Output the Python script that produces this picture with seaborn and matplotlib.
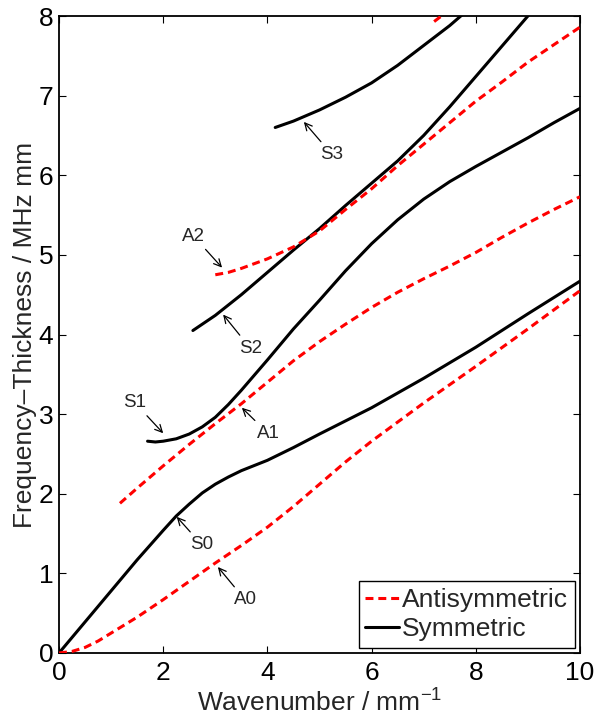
import matplotlib
matplotlib.use("Agg")
import matplotlib.pyplot as plt
import seaborn as sns
import pandas as pd

# ---- data ----
A0_x = [0, 0.25, 0.5, 0.75, 1, 1.5, 2, 2.5, 3, 3.5, 4, 4.5, 5, 5.5, 6, 7, 8, 9, 10]
A0_y = [0, 0.02, 0.07, 0.15, 0.25, 0.45, 0.67, 0.90, 1.13, 1.35, 1.58, 1.84, 2.12, 2.40, 2.66, 3.14, 3.60, 4.07, 4.55]

S0_x = [0, 0.5, 1, 1.5, 2, 2.25, 2.5, 2.75, 3, 3.25, 3.5, 4, 4.5, 5, 6, 7, 8, 9, 10]
S0_y = [0, 0.39, 0.78, 1.17, 1.54, 1.72, 1.87, 2.01, 2.12, 2.21, 2.29, 2.42, 2.58, 2.75, 3.08, 3.45, 3.84, 4.26, 4.67]

A1_x = [1.17, 1.5, 2, 2.5, 3, 3.5, 4, 4.5, 5, 5.5, 6, 6.5, 7, 7.5, 8, 8.5, 9, 9.5, 10]
A1_y = [1.88, 2.07, 2.35, 2.62, 2.88, 3.13, 3.40, 3.67, 3.91, 4.13, 4.34, 4.53, 4.70, 4.86, 5.03, 5.22, 5.40, 5.57, 5.73]

S1_x = [1.7, 1.85, 2, 2.25, 2.5, 2.75, 3, 3.25, 3.5, 3.75, 4, 4.5, 5, 5.5, 6, 6.5, 7, 7.5, 8, 8.5, 9, 9.5, 10]
S1_y = [2.66, 2.65, 2.66, 2.69, 2.75, 2.84, 2.96, 3.12, 3.30, 3.49, 3.68, 4.07, 4.43, 4.80, 5.14, 5.44, 5.70, 5.92, 6.11, 6.29, 6.47, 6.66, 6.84]

A2_x = [3.0, 3.25, 3.5, 4, 4.5, 5, 5.5, 6, 6.5, 7, 7.5, 8, 8.5, 9, 9.5, 10]
A2_y = [4.75, 4.78, 4.83, 4.95, 5.10, 5.30, 5.57, 5.83, 6.12, 6.39, 6.66, 6.93, 7.17, 7.42, 7.64, 7.86]

S2_x = [2.57, 3, 3.5, 4, 4.5, 5, 5.5, 6, 6.5, 7, 7.5, 8, 8.5, 9, 9.1]
S2_y = [4.05, 4.24, 4.50, 4.78, 5.06, 5.33, 5.62, 5.90, 6.18, 6.50, 6.86, 7.24, 7.62, 8.0, 8.08]

A3_x = [7.2, 7.3, 7.4]
A3_y = [7.93, 7.98, 8.03]

S3_x = [4.15, 4.5, 5, 5.5, 6, 6.5, 7, 7.5, 7.8]
S3_y = [6.60, 6.68, 6.82, 6.98, 7.16, 7.38, 7.63, 7.88, 8.05]

# mode labels: (text, arrow tip x, tip y, text x, text y)
labels = ["S3", "A2", "S2", "S1", "A1", "S0", "A0"]
tip_x = [4.70, 3.13, 3.15, 2.00, 3.51, 2.26, 3.05]
tip_y = [6.67, 4.84, 4.25, 2.76, 3.08, 1.71, 1.08]
txt_x = [5.24, 2.59, 3.67, 1.46, 4.01, 2.74, 3.57]
txt_y = [6.26, 5.23, 3.83, 3.14, 2.76, 1.36, 0.67]

x_ticks = [0, 2, 4, 6, 8, 10]
y_ticks = [0, 1, 2, 3, 4, 5, 6, 7, 8]

# ---- style ----
sns.set_style("ticks")
plt.rcParams['font.family'] = ['Liberation Sans', 'DejaVu Sans']
plt.rcParams['mathtext.fontset'] = 'custom'
plt.rcParams['mathtext.rm'] = 'Liberation Sans'
plt.rcParams['mathtext.it'] = 'Liberation Sans'
plt.rcParams['mathtext.default'] = 'regular'

fig = plt.figure(figsize=(5.97, 7.2), dpi=100)
ax = fig.add_axes([59/597, 1 - 653/720, (580 - 59)/597, (653 - 16)/720])

anti = [(A0_x, A0_y), (A1_x, A1_y), (A2_x, A2_y), (A3_x, A3_y)]
sym = [(S0_x, S0_y), (S1_x, S1_y), (S2_x, S2_y), (S3_x, S3_y)]

LW = 2.2
red_handle = None
for i, (xs, ys) in enumerate(anti):
    df = pd.DataFrame({"k": xs, "f": ys})
    sns.lineplot(data=df, x="k", y="f", ax=ax, color="#ff0000", lw=LW,
                 sort=False, estimator=None, zorder=3)
    ln = ax.lines[-1]
    ln.set_dashes([2.6, 1.6])
    if i == 0:
        red_handle = ln
black_handle = None
for i, (xs, ys) in enumerate(sym):
    df = pd.DataFrame({"k": xs, "f": ys})
    sns.lineplot(data=df, x="k", y="f", ax=ax, color="black", lw=LW,
                 sort=False, estimator=None, zorder=2)
    if i == 0:
        black_handle = ax.lines[-1]

for t, tx, ty, px, py in zip(labels, tip_x, tip_y, txt_x, txt_y):
    ax.annotate(t, xy=(tx, ty), xytext=(px, py), ha="center", va="center",
                fontsize=13.5,
                arrowprops=dict(arrowstyle="->", color="black", lw=0.9,
                                shrinkA=1, shrinkB=0, mutation_scale=13))

ax.set_xlim(0, 10)
ax.set_ylim(0, 8)
ax.set_xticks(x_ticks)
ax.set_yticks(y_ticks)
ax.tick_params(direction="in", length=5, width=0.8, top=True, right=True,
               labelsize=19, colors="black")
ax.tick_params(axis="x", pad=6)
ax.tick_params(axis="y", pad=4)
for s in ax.spines.values():
    s.set_visible(True)
    s.set_linewidth(1.3)
    s.set_color("black")

ax.set_xlabel("Wavenumber / mm$^{-1}$", fontsize=19, labelpad=3)
ax.set_ylabel("Frequency\u2013Thickness / MHz mm", fontsize=19, labelpad=1)

leg = ax.legend([red_handle, black_handle], ["Antisymmetric", "Symmetric"],
                loc="lower right", fontsize=19, frameon=True, fancybox=False,
                edgecolor="black", framealpha=1, handlelength=1.3,
                handletextpad=0.1, borderpad=0.25, labelspacing=0.2,
                borderaxespad=0.2)
leg.get_frame().set_linewidth(1.0)

fig.savefig("out.png", dpi=100)
